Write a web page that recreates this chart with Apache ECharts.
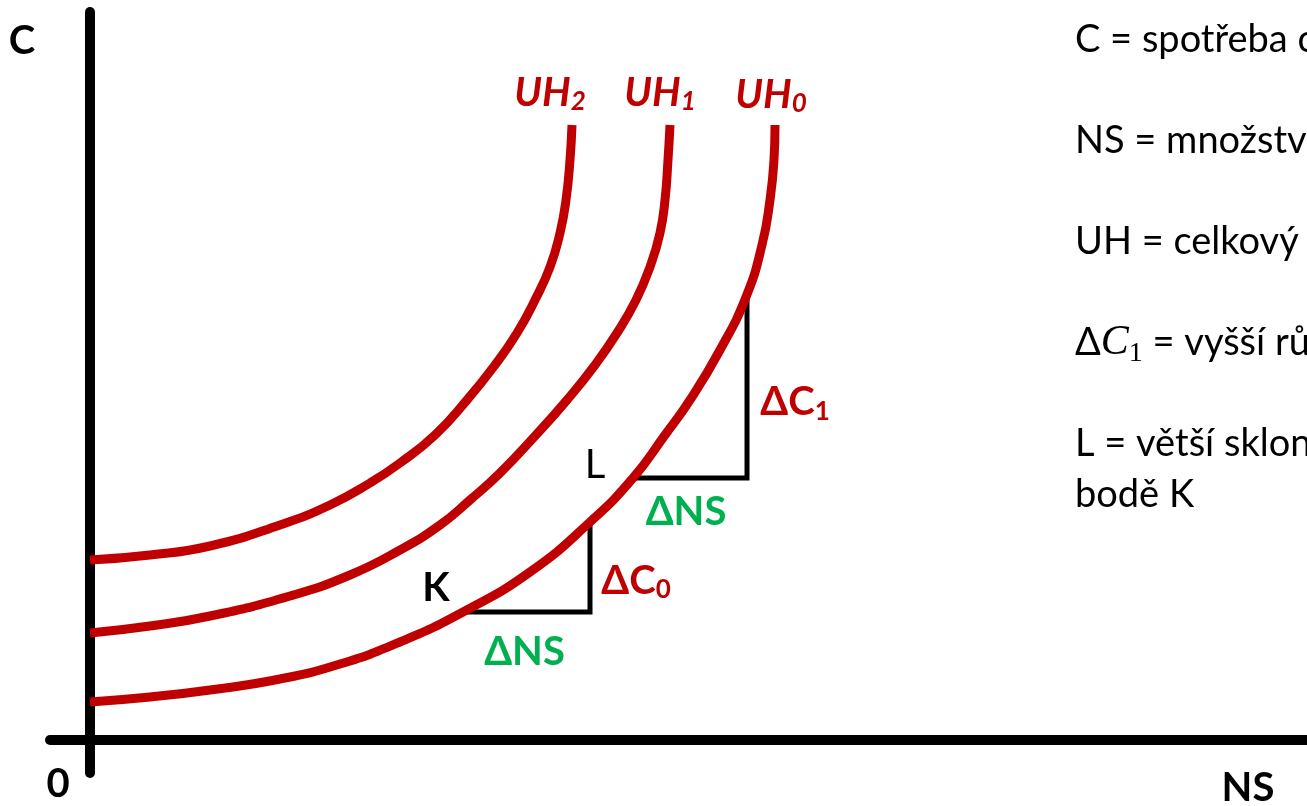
<!DOCTYPE html>
<html><head><meta charset="utf-8">
<script src="https://cdn.jsdelivr.net/npm/echarts/dist/echarts.min.js"></script>
<style>html,body{margin:0;padding:0;background:#fff}#c{width:1307px;height:806px}</style>
</head><body><div id="c"></div>
<script>
// Indifference curves (NS on x, C on y)
const UH0 = [[0,38],[60,43],[120,50],[190,61],[250,76],[310,98],[373,128],[440,168],[500,218],[543,262],[575,305],[600,340],[630,390],[656,443],[672,495],[680,540],[684,580],[685,615]];
const UH1 = [[0,107],[60,114],[120,124],[200,144],[260,165],[310,190],[350,215],[380,240],[410,267],[445,304],[477,340],[505,375],[527,407],[546,440],[560,473],[570,507],[575,540],[578,580],[580,615]];
const UH2 = [[0,180],[60,185],[120,194],[190,215],[240,235],[280,257],[310,277],[345,305],[377,340],[405,375],[427,407],[445,440],[460,473],[470,507],[476,540],[480,580],[482,615]];
const triangleK = [[373,128],[500,128],[500,218]];
const triangleL = [[543,262],[657,262],[657,445]];
const curveLabels = ['{u|UH}{us|0}','{u|UH}{us|1}','{u|UH}{us|2}'];
const noteLines = [
  '{n|C = spotřeba c}', '', '{n|NS = množstv}', '', '{n|UH = celkový}', '',
  '{n|Δ}{mi|C}{ms|1}{n| = vyšší rů}', '', '{n|L = větší sklon}', '{n|bodě K}'
];

const RED = '#C00000', GREEN = '#00B050', FONT = 'Lato';
const mid = (a, b) => [(a[0] + b[0]) / 2, (a[1] + b[1]) / 2];

const annotations = [
  { value: triangleK[0], text: '{b|K}', off: [-27, -24] },
  { value: mid(triangleK[0], triangleK[1]), text: '{g|ΔNS}', off: [-2, 40] },
  { value: mid(triangleK[1], triangleK[2]), text: '{r|ΔC}{rs|0}', off: [46, 14] },
  { value: triangleL[0], text: '{l|L}', off: [-38, -13] },
  { value: mid(triangleL[0], triangleL[1]), text: '{g|ΔNS}', off: [-4, 34] },
  { value: mid(triangleL[1], triangleL[2]), text: '{r|ΔC}{rs|1}', off: [48, 16] },
  { value: UH0[UH0.length - 1], text: curveLabels[0], off: [-4, -30] },
  { value: UH1[UH1.length - 1], text: curveLabels[1], off: [-10, -32] },
  { value: UH2[UH2.length - 1], text: curveLabels[2], off: [-22, -32] }
];

const nb = { textBorderWidth: 0, textBorderColor: 'transparent', textShadowBlur: 0, opacity: 1 };
const rich = {
  b: Object.assign({ fontFamily: FONT, fontWeight: 'bold', fontSize: 40, color: '#000', lineHeight: 44 }, nb),
  l: Object.assign({ fontFamily: FONT, fontWeight: 'normal', fontSize: 40, color: '#000', lineHeight: 44 }, nb),
  g: Object.assign({ fontFamily: FONT, fontWeight: 'bold', fontSize: 40, color: GREEN, lineHeight: 44 }, nb),
  r: Object.assign({ fontFamily: FONT, fontWeight: 'bold', fontSize: 40, color: RED, lineHeight: 44 }, nb),
  rs: Object.assign({ fontFamily: FONT, fontWeight: 'bold', fontSize: 26, color: RED, lineHeight: 26, verticalAlign: 'bottom' }, nb),
  u: Object.assign({ fontFamily: FONT, fontWeight: 'bold', fontStyle: 'italic', fontSize: 40, color: RED, lineHeight: 44 }, nb),
  us: Object.assign({ fontFamily: FONT, fontWeight: 'bold', fontStyle: 'italic', fontSize: 26, color: RED, lineHeight: 26, verticalAlign: 'bottom' }, nb)
};

const noteRich = {
  n: { fontFamily: FONT, fontSize: 38, fill: '#000', lineHeight: 50 },
  mi: { fontFamily: 'Liberation Serif', fontStyle: 'italic', fontSize: 42, fill: '#000', lineHeight: 50 },
  ms: { fontFamily: 'Liberation Serif', fontSize: 28, fill: '#000', lineHeight: 30, verticalAlign: 'bottom' }
};

const curveStyle = { color: RED, width: 9, cap: 'butt', opacity: 1 };
const triStyle = { color: '#000', width: 5, join: 'miter', cap: 'square', opacity: 1 };

const chart = echarts.init(document.getElementById('c'), null, { renderer: 'canvas' });
chart.setOption({
  animation: false,
  backgroundColor: '#fff',
  grid: { left: 50, right: 0, top: 12, bottom: 33, containLabel: false },
  xAxis: {
    type: 'value', min: -40, max: 1217,
    axisLine: { show: true, onZero: true, lineStyle: { color: '#000', width: 10 } },
    axisTick: { show: false }, axisLabel: { show: false }, splitLine: { show: false }
  },
  yAxis: {
    type: 'value', min: -33, max: 728,
    axisLine: { show: true, onZero: true, lineStyle: { color: '#000', width: 10 } },
    axisTick: { show: false }, axisLabel: { show: false }, splitLine: { show: false }
  },
  series: [
    { type: 'line', name: 'K', data: triangleK, showSymbol: false, lineStyle: triStyle, z: 3, silent: true },
    { type: 'line', name: 'L', data: triangleL, showSymbol: false, lineStyle: triStyle, z: 3, silent: true },
    { type: 'line', name: 'UH0', data: UH0, smooth: 0.5, showSymbol: false, lineStyle: curveStyle, z: 4, silent: true },
    { type: 'line', name: 'UH1', data: UH1, smooth: 0.5, showSymbol: false, lineStyle: curveStyle, z: 4, silent: true },
    { type: 'line', name: 'UH2', data: UH2, smooth: 0.5, showSymbol: false, lineStyle: curveStyle, z: 4, silent: true },
    {
      type: 'scatter', name: 'labels', symbolSize: 0, silent: true, z: 5,
      itemStyle: { color: '#fff', opacity: 1 },
      data: annotations.map(a => ({
        value: a.value,
        itemStyle: { opacity: 1 },
        label: Object.assign({ show: true, position: 'inside', offset: a.off, formatter: a.text, rich: rich, align: 'center', verticalAlign: 'middle' }, nb)
      }))
    }
  ],
  graphic: [
    { type: 'text', x: 22, y: 41, style: { text: 'C', font: 'bold 40px Lato', fill: '#000', align: 'center', verticalAlign: 'middle' } },
    { type: 'text', x: 58, y: 784, style: { text: '0', font: 'bold 40px Lato', fill: '#000', align: 'center', verticalAlign: 'middle' } },
    { type: 'text', x: 1248, y: 788, style: { text: 'NS', font: 'bold 40px Lato', fill: '#000', align: 'center', verticalAlign: 'middle' } }
  ].concat(noteLines.map((t, i) => ({
    type: 'text', x: 1075, y: 40 + i * 50.5,
    style: { text: t, rich: noteRich, font: '38px Lato', fill: '#000', align: 'left', verticalAlign: 'middle' }
  })).filter(g => g.style.text !== ''))
});
</script>
</body></html>
